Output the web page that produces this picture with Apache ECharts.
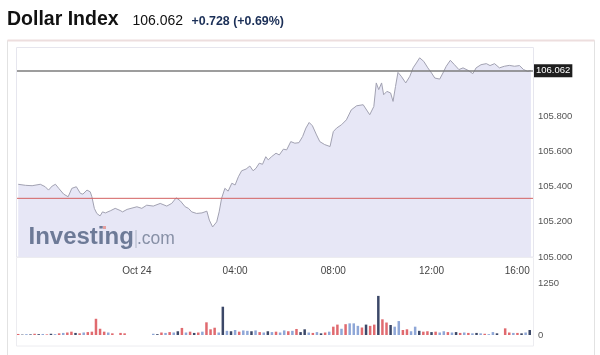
<!DOCTYPE html>
<html>
<head>
<meta charset="utf-8">
<script src="https://cdn.jsdelivr.net/npm/echarts@6/dist/echarts.min.js"></script>
<style>
html,body{margin:0;padding:0;background:#fff;}
#chart{width:600px;height:355px;}
</style>
</head>
<body>
<div id="chart"></div>
<script>
// ---- header values ----
const titleText = 'Dollar Index';
const lastPrice = 106.062;
const change = 0.728;
const changePct = 0.69;
const prevClose = 105.334;

// ---- price series (Oct 23 evening -> Oct 24) ----
const priceTimes = ['19:10','19:28','19:44','20:04','20:16','20:24','20:33','20:41','20:49','21:01',
  '21:12','21:21','21:32','21:42','21:48','21:58','22:06','22:10','22:16','22:22',
  '22:30','22:36','22:43','22:55','23:07','23:19','23:25','23:36','00:00','00:12',
  '00:24','00:40','00:57','01:13','01:25','01:36','01:46','01:58','02:06','02:14',
  '02:26','02:39','02:51','02:57','03:05','03:15','03:21','03:27','03:35','03:43',
  '03:52','04:00','04:08','04:16','04:27','04:36','04:44','04:51','04:59','05:07',
  '05:15','05:21','05:29','05:40','05:48','05:58','06:06','06:16','06:26','06:36',
  '06:45','06:53','07:01','07:09','07:19','07:27','07:39','07:52','08:00','08:08',
  '08:20','08:32','08:44','08:57','09:13','09:29','09:39','09:45','09:51','09:58',
  '10:03','10:11','10:20','10:26','10:32','10:38','10:46','10:57','11:07','11:15',
  '11:23','11:31','11:41','11:51','12:00','12:08','12:20','12:28','12:36','12:46',
  '12:56','13:07','13:17','13:29','13:41','13:49','14:01','14:14','14:23','14:34',
  '14:46','14:58','15:10','15:23','15:35','15:45','15:55','16:03'];
const priceValues = [105.414,105.408,105.406,105.414,105.400,105.381,105.404,105.414,105.391,105.358,
  105.343,105.391,105.400,105.362,105.358,105.381,105.371,105.343,105.277,105.248,
  105.234,105.257,105.251,105.263,105.277,105.265,105.257,105.271,105.286,105.277,
  105.295,105.290,105.305,105.290,105.305,105.337,105.320,105.286,105.277,105.257,
  105.248,105.251,105.261,105.210,105.171,105.200,105.257,105.334,105.391,105.375,
  105.420,105.410,105.457,105.491,105.501,105.518,105.491,105.505,105.534,105.528,
  105.571,105.553,105.571,105.591,105.581,105.614,105.610,105.657,105.648,105.651,
  105.686,105.734,105.766,105.747,105.695,105.657,105.640,105.629,105.714,105.734,
  105.753,105.781,105.838,105.861,105.867,105.810,105.857,105.991,105.953,105.991,
  105.924,105.943,105.934,105.886,105.971,106.051,106.029,105.991,106.029,106.077,
  106.105,106.134,106.114,106.077,106.048,106.019,106.013,106.048,106.086,106.120,
  106.095,106.067,106.077,106.063,106.044,106.077,106.095,106.101,106.090,106.101,
  106.077,106.086,106.091,106.086,106.090,106.067,106.057,106.062];

// ---- volume (10-minute bins starting 19:10 Oct 23) ----
const volStart = '19:10';
const volStepMin = 10;
const volValues = [25,10,20,15,30,20,25,15,30,20,
  40,50,60,80,50,40,60,70,80,390,
  150,80,60,40,0,50,40,0,0,0,
  0,0,0,30,20,60,50,70,60,90,
  170,60,80,50,60,80,305,137,175,60,
  680,100,90,120,80,110,100,90,110,70,
  60,90,70,80,60,110,90,100,145,70,
  137,60,50,70,40,60,80,200,250,150,
  260,280,280,220,180,250,220,250,940,377,
  300,240,200,335,120,137,90,200,100,80,
  90,70,80,60,90,70,60,70,50,60,
  50,40,50,40,30,20,70,40,0,160,
  60,50,50,40,60,120];
const volDir = ['d','n','u','n','d','n','u','d','n','u',
  'd','u','d','d','n','d','u','d','d','d',
  'd','d','u','d','d','d','d','d','d','d',
  'd','d','d','u','n','d','u','d','u','n',
  'd','u','d','n','d','u','d','d','d','u',
  'n','u','n','u','d','u','u','n','u','d',
  'u','n','u','d','u','u','d','u','d','n',
  'n','u','d','u','n','d','u','d','d','u',
  'd','u','u','u','d','n','d','d','n','d',
  'd','n','u','u','d','d','u','u','n','d',
  'd','n','d','u','u','d','u','n','d','u',
  'd','u','n','u','d','u','u','n','u','d',
  'd','u','d','n','u','n'];

// ---- axis ticks ----
const xTickTimes = ['00:00','04:00','08:00','12:00','16:00'];
const xTickLabels = ['Oct 24','04:00','08:00','12:00','16:00'];
const yTicks = [105.0,105.2,105.4,105.6,105.8];
const volTicks = [0,1250];

function toMin(t){ const p=t.split(':').map(Number); let v=p[0]*60+p[1]; if(p[0]>=18) v-=1440; return v; }

const X_MIN = -293, X_MAX = 968;
const priceData = priceTimes.map((t,i)=>[toMin(t), priceValues[i]]);
const prevCloseData = [[X_MIN, prevClose],[X_MAX, prevClose]];
const volColors = {u:'#8fa7d7', d:'#e06a6f', n:'#3c4868'};
const v0 = toMin(volStart);
const volData = volValues.map((v,i)=>({value:[v0 + i*volStepMin, v], itemStyle:{color:volColors[volDir[i]]}}));
const xTickMins = xTickTimes.map(toMin);

const FONT = '"Liberation Sans", Arial, sans-serif';

const chart = echarts.init(document.getElementById('chart'), null, {renderer:'canvas'});
chart.setOption({
  animation:false,
  backgroundColor:'#fff',
  grid:[
    {left:17, right:67, top:48, bottom:98},
    {left:17, right:67, top:283, bottom:20}
  ],
  xAxis:[
    {type:'value', gridIndex:0, min:X_MIN, max:X_MAX,
     axisLine:{show:false}, axisTick:{show:false}, splitLine:{show:false},
     axisLabel:{customValues:xTickMins, margin:9, fontSize:10, color:'#444', fontFamily:FONT,
       alignMaxLabel:'right',
       formatter:(v)=>{const i=xTickMins.indexOf(v); return i>=0?xTickLabels[i]:'';}}},
    {type:'value', gridIndex:1, min:X_MIN, max:X_MAX, show:false}
  ],
  yAxis:[
    {type:'value', gridIndex:0, position:'right', min:105.0, max:106.19, interval:0.2,
     axisLine:{show:false}, axisTick:{show:false}, splitLine:{show:false},
     axisLabel:{customValues:yTicks, margin:5, fontSize:9.5, color:'#555', fontFamily:FONT,
       formatter:(v)=>v.toFixed(3)}},
    {type:'value', gridIndex:1, position:'right', min:0, max:1250, interval:1250,
     axisLine:{show:false}, axisTick:{show:false}, splitLine:{show:false},
     axisLabel:{customValues:volTicks, margin:5, fontSize:9.5, color:'#555', fontFamily:FONT,
       formatter:(v)=>String(v)}}
  ],
  series:[
    {type:'line', xAxisIndex:0, yAxisIndex:0, data:priceData, showSymbol:false, smooth:false,
     lineStyle:{color:'#a2a2b2', width:1},
     areaStyle:{color:'#e7e7f6', origin:'start', opacity:1},
     markLine:{silent:true, symbol:'none', animation:false,
       lineStyle:{color:'#7c7c7c', width:1.5, type:'solid'},
       data:[
         {yAxis:lastPrice,
          label:{show:true, position:'end', distance:1, formatter:lastPrice.toFixed(3),
            backgroundColor:'#1e1e1e', color:'#fff', padding:[2,2,1,2], fontSize:9.5, fontFamily:FONT}}
       ]}
    },
    {type:'line', xAxisIndex:0, yAxisIndex:0, data:prevCloseData, showSymbol:false, silent:true,
     color:'#d46262', lineStyle:{color:'#d46262', width:1}},
    {type:'bar', xAxisIndex:1, yAxisIndex:1, data:volData, barWidth:2.5}
  ],
  graphic:[
    {type:'rect', shape:{x:7.5, y:40.5, width:587, height:320}, style:{fill:'none', stroke:'#e2e2e2', lineWidth:1}, z:-10},
    {type:'line', shape:{x1:7.5, y1:40.5, x2:594.5, y2:40.5}, style:{stroke:'#eddede', lineWidth:2}, z:-9},
    {type:'rect', shape:{x:16.5, y:47.5, width:517, height:209.5}, style:{fill:'none', stroke:'#e6e6ee', lineWidth:1}, z:-5},
    {type:'rect', shape:{x:16.5, y:257.5, width:517, height:88.5}, style:{fill:'none', stroke:'#ececf0', lineWidth:1}, z:-5},
    {type:'text', style:{text:titleText, x:7, y:19.5, font:'bold 19.5px '+FONT, fill:'#111', textVerticalAlign:'middle'}},
    {type:'text', style:{text:lastPrice.toFixed(3), x:132.5, y:21, font:'14px '+FONT, fill:'#111', textVerticalAlign:'middle'}},
    {type:'text', style:{text:'+'+change.toFixed(3)+' (+'+changePct.toFixed(2)+'%)', x:191.5, y:21.5, font:'bold 12.4px '+FONT, fill:'#1b2f57', textVerticalAlign:'middle'}},
    {type:'text', z:50, style:{text:'Investing', x:28.5, y:237, font:'bold 24px '+FONT, fill:'#6d7a97', textVerticalAlign:'middle'}},
    {type:'rect', z:50, shape:{x:135.5, y:230, width:1, height:18}, style:{fill:'#b0b6c6'}},
    {type:'text', z:50, style:{text:'.com', x:137, y:239, font:'17.5px '+FONT, fill:'#8790a6', textVerticalAlign:'middle'}},
    {type:'rect', z:50, shape:{x:103, y:226, width:3, height:3}, style:{fill:'#e5a0a0'}}
  ]
});
</script>
</body>
</html>
